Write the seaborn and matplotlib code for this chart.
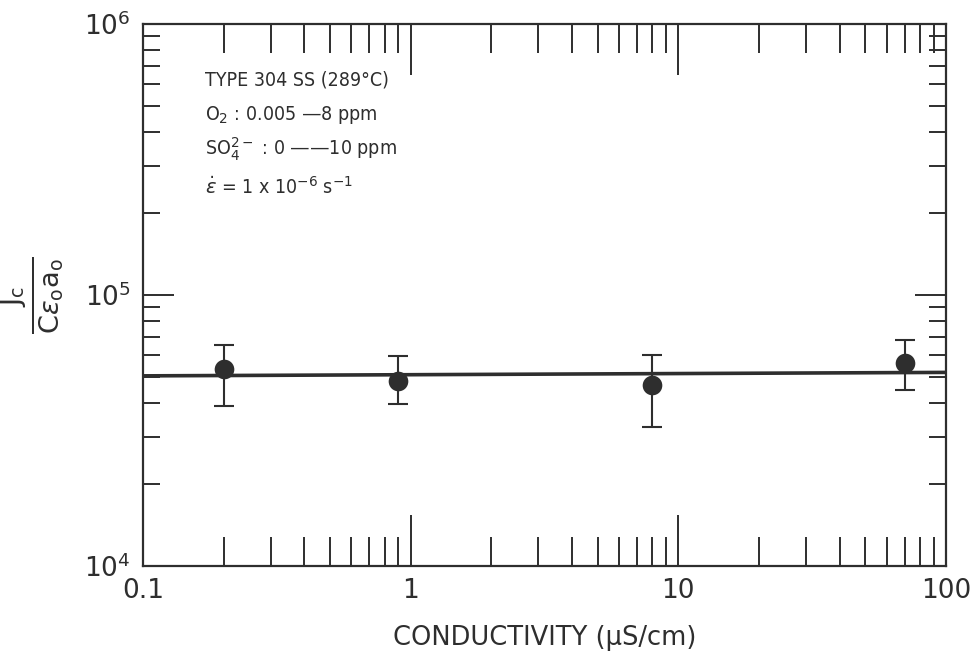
import matplotlib
matplotlib.use("Agg")
import matplotlib.pyplot as plt
import seaborn as sns
import numpy as np
import pandas as pd
from matplotlib.ticker import LogLocator, FixedLocator, FixedFormatter, NullFormatter

# ---- data ----
conductivity = [0.2, 0.9, 8.0, 70.0]
jc_ratio = [53300, 48200, 46500, 56100]
err_upper = [65400, 59500, 60100, 68200]
err_lower = [38900, 39600, 32600, 44600]

fit_x = [0.1, 100.0]
fit_y = [50300, 51800]

x_ticks = [0.1, 1, 10, 100]
x_tick_labels = ["0.1", "1", "10", "100"]
y_ticks = [1e4, 1e5, 1e6]
y_tick_labels = [r"$10^4$", r"$10^5$", r"$10^6$"]

notes = [
    "TYPE 304 SS (289°C)",
    r"O$_2$ : 0.005 —8 ppm",
    r"SO$_4^{2-}$ : 0 ——10 ppm",
    r"$\dot{\epsilon}$ = 1 x 10$^{-6}$ s$^{-1}$",
]

INK = "#2e2e2e"

sns.set_style("white")
plt.rcParams["font.family"] = ["DejaVu Sans"]
plt.rcParams["mathtext.fontset"] = "dejavusans"
plt.rcParams["text.color"] = INK
plt.rcParams["axes.labelcolor"] = INK
plt.rcParams["xtick.color"] = INK
plt.rcParams["ytick.color"] = INK

fig = plt.figure(figsize=(9.77, 6.54), dpi=100)
ax = fig.add_axes([0.1464, 0.1346, 0.8219, 0.8287])

pts = pd.DataFrame({"x": conductivity, "y": jc_ratio})
fit = pd.DataFrame({"x": fit_x, "y": fit_y})

ax.set_xscale("log")
ax.set_yscale("log")

sns.lineplot(data=fit, x="x", y="y", ax=ax, color=INK, linewidth=2.6, zorder=2)

yerr = np.array([np.array(jc_ratio) - np.array(err_lower),
                 np.array(err_upper) - np.array(jc_ratio)])
ax.errorbar(conductivity, jc_ratio, yerr=yerr, fmt="none", ecolor=INK,
            elinewidth=1.5, capsize=7, capthick=1.5, zorder=3)
sns.scatterplot(data=pts, x="x", y="y", ax=ax, color=INK, s=200,
                edgecolor=INK, linewidth=0, zorder=4, legend=False)

ax.set_xlim(0.1, 100)
ax.set_ylim(1e4, 1e6)

ax.xaxis.set_major_locator(FixedLocator(x_ticks))
ax.xaxis.set_major_formatter(FixedFormatter(x_tick_labels))
ax.yaxis.set_major_locator(FixedLocator(y_ticks))
ax.yaxis.set_major_formatter(FixedFormatter(y_tick_labels))
ax.xaxis.set_minor_locator(LogLocator(base=10, subs=np.arange(2, 10)))
ax.yaxis.set_minor_locator(LogLocator(base=10, subs=np.arange(2, 10)))
ax.xaxis.set_minor_formatter(NullFormatter())
ax.yaxis.set_minor_formatter(NullFormatter())

ax.tick_params(axis="x", which="major", direction="in", length=37, width=1.4,
               top=True, bottom=True, labelsize=19, pad=9)
ax.tick_params(axis="x", which="minor", direction="in", length=21, width=1.4,
               top=True, bottom=True)
ax.tick_params(axis="y", which="major", direction="in", length=22, width=1.4,
               left=True, right=True, labelsize=19, pad=9)
ax.tick_params(axis="y", which="minor", direction="in", length=12, width=1.4,
               left=True, right=True)

for s in ax.spines.values():
    s.set_color(INK)
    s.set_linewidth(1.6)

ax.set_xlabel("CONDUCTIVITY (μS/cm)", fontsize=18.5, labelpad=15)
ax.set_ylabel(r"$\frac{\mathrm{J_c}}{\mathrm{C}\epsilon_\mathrm{o}\mathrm{a_o}}$",
              fontsize=28, rotation=90)
ax.yaxis.set_label_coords(-0.097, 0.5)

ys = [0.897, 0.832, 0.768, 0.699]
for txt, yy in zip(notes, ys):
    ax.text(0.077, yy, txt, transform=ax.transAxes, fontsize=14,
            family="DejaVu Sans", fontstretch="condensed",
            ha="left", va="center", color=INK)

fig.savefig("out.png", dpi=100, facecolor="white")
